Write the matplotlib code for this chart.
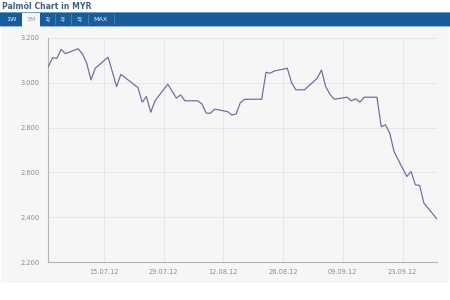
import matplotlib
matplotlib.use("Agg")
import matplotlib.pyplot as plt
import matplotlib.dates as mdates
from matplotlib.patches import Rectangle
from matplotlib.lines import Line2D
import pandas as pd

# ---- data ----
title = "Palmöl Chart in MYR"
tabs = ["1W", "3M", "1J", "3J", "5J", "MAX"]
selected_tab = "3M"
day_offsets = [0, 1, 2, 3, 4, 7, 8, 9, 10, 11, 14, 15, 16, 17, 21, 22, 23, 24, 25,
               28, 30, 31, 32, 35, 36, 37, 38, 39, 42, 43, 44, 45, 46, 50, 51, 52, 53,
               56, 57, 58, 59, 60, 63, 64, 65, 66, 67, 70, 71, 72, 73, 74, 77, 78, 79,
               80, 81, 84, 85, 86, 87, 88, 91]
prices = [3071, 3111, 3108, 3148, 3129, 3151, 3128, 3086, 3012, 3064, 3113, 3049, 2982,
          3037, 2978, 2913, 2938, 2868, 2919, 2993, 2931, 2945, 2919, 2919, 2905, 2864,
          2864, 2882, 2871, 2856, 2860, 2911, 2926, 2926, 3046, 3042, 3052, 3064, 3000,
          2968, 2968, 2968, 3019, 3056, 2982, 2948, 2926, 2935, 2919, 2928, 2913, 2935,
          2935, 2804, 2812, 2775, 2693, 2582, 2604, 2545, 2542, 2464, 2394]
start_date = "2012-07-02"
y_ticks = [2200, 2400, 2600, 2800, 3000, 3200]
x_tick_dates = ["2012-07-15", "2012-07-29", "2012-08-12", "2012-08-26", "2012-09-09", "2012-09-23"]

dates = pd.Timestamp(start_date) + pd.to_timedelta(day_offsets, unit="D")

W, H = 450, 300
fig = plt.figure(figsize=(4.5, 3.0), dpi=100)
fig.patch.set_facecolor("white")

def px(x, y, w, h):
    return (x / W, 1 - (y + h) / H, w / W, h / H)

# gray panel
x0, y0, w0, h0 = px(1, 27, 448, 256)
fig.patches.append(Rectangle((x0, y0), w0, h0, transform=fig.transFigure,
                             facecolor="#f6f6f6", edgecolor="none", zorder=0))
# blue tab bar
x0, y0, w0, h0 = px(0, 12, 450, 14)
fig.patches.append(Rectangle((x0, y0), w0, h0, transform=fig.transFigure,
                             facecolor="#1a5c99", edgecolor="none", zorder=1))
fig.lines.append(Line2D([0, 1], [1 - 12 / H] * 2, transform=fig.transFigure,
                        color="#7fa8cc", lw=0.6, zorder=2))
fig.lines.append(Line2D([0, 1], [1 - 26 / H] * 2, transform=fig.transFigure,
                        color="#7fa8cc", lw=0.6, zorder=2))

fig.text(2 / W, 1 - 6.5 / H, title, fontsize=5.6, fontweight="bold",
         color="#3f6283", va="center", ha="left")

tab_centers = [11, 31, 47, 62, 79, 100]
seps = [55, 71, 88, 114]
for name, cx in zip(tabs, tab_centers):
    if name == selected_tab:
        x0, y0, w0, h0 = px(22, 13, 18, 14)
        fig.patches.append(Rectangle((x0, y0), w0, h0, transform=fig.transFigure,
                                     facecolor="#f6f6f6", edgecolor="none", zorder=3))
        col = "#9a9a9a"
    else:
        col = "#e8eef5"
    fig.text(cx / W, 1 - 19.5 / H, name, fontsize=4.6, color=col,
             ha="center", va="center", zorder=4)
for sx in seps:
    fig.lines.append(Line2D([sx / W] * 2, [1 - 14 / H, 1 - 24 / H], transform=fig.transFigure,
                            color="#4d82b5", lw=0.6, zorder=3))

# chart axes
ax = fig.add_axes([48.3 / W, 1 - 262.3 / H, (436.7 - 48.3) / W, (262.3 - 37.7) / H])
ax.set_zorder(10)
ax.set_facecolor("none")
ax.plot(dates, prices, color="#6a6aa2", lw=0.85, zorder=3)
ax.set_ylim(2200, 3200)
ax.set_xlim(dates[0], dates[-1])
ax.set_yticks(y_ticks)
ax.set_yticklabels([f"{v:,}".replace(",", ".") for v in y_ticks])
xt = pd.to_datetime(x_tick_dates)
ax.set_xticks(xt)
ax.set_xticklabels([d.strftime("%d.%m.%y") for d in xt])
ax.grid(True, color="#e4e4e4", lw=0.6)
ax.set_axisbelow(True)
for s in ["top", "right"]:
    ax.spines[s].set_visible(False)
for s in ["left", "bottom"]:
    ax.spines[s].set_color("#b5b5b5")
    ax.spines[s].set_linewidth(0.8)
ax.tick_params(axis="both", length=0, labelsize=4.8, labelcolor="#8c8c8c")
ax.tick_params(axis="y", pad=6)
ax.tick_params(axis="x", pad=5)

fig.savefig("out.png", dpi=100)
